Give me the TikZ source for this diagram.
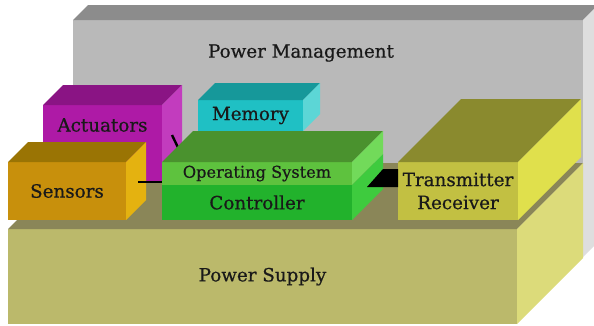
\documentclass[tikz,border=0pt]{standalone}
\usepackage{fontspec}
\setmainfont[FakeBold=0.6]{DejaVu Serif}
\usepackage{xcolor}
\usepackage{tikz}
\usetikzlibrary{positioning}
\definecolor{pmfront}{HTML}{B9B9B9}
\definecolor{pmtop}{HTML}{8C8C8C}
\definecolor{pmside}{HTML}{DEDEDE}
\definecolor{supfront}{HTML}{BBB96B}
\definecolor{suptop}{HTML}{8A8658}
\definecolor{supside}{HTML}{DCDB7A}
\definecolor{trxfront}{HTML}{C2C042}
\definecolor{trxtop}{HTML}{8A8A2E}
\definecolor{trxside}{HTML}{E0E04C}
\definecolor{memfront}{HTML}{1FC0C4}
\definecolor{memtop}{HTML}{16989A}
\definecolor{memside}{HTML}{5CD6D6}
\definecolor{actfront}{HTML}{AE1AA6}
\definecolor{acttop}{HTML}{8A1484}
\definecolor{actside}{HTML}{C23CBE}
\definecolor{osfront}{HTML}{5EC23E}
\definecolor{ostop}{HTML}{4A922E}
\definecolor{osside}{HTML}{72DA5A}
\definecolor{ctrlfront}{HTML}{22B22C}
\definecolor{ctrlside}{HTML}{3ECB3E}
\definecolor{sensfront}{HTML}{C8900C}
\definecolor{senstop}{HTML}{9A7404}
\definecolor{sensside}{HTML}{E4B210}
\newcommand{\topface}[3]{\fill[#3] (#1.north west) -- ++(#2,-#2)
  -- ([shift={(#2,-#2)}]#1.north east) -- (#1.north east) -- cycle;}
\newcommand{\sideface}[3]{\fill[#3] (#1.north east) -- ++(#2,-#2)
  -- ([shift={(#2,-#2)}]#1.south east) -- (#1.south east) -- cycle;}

\begin{document}
\begin{tikzpicture}[x=1pt, y=-1pt,
  face/.style={inner sep=0, outer sep=0, anchor=north west,
    font=\fontsize{18.3}{23}\selectfont, text=black!90, align=center},
  lbl/.style={inner sep=0, font=\fontsize{18.3}{23}\selectfont, text=black!90},
  link/.style={line width=2.4pt, black}
]
  \useasboundingbox (0,0) rectangle (594,325);
  \clip (0,0) rectangle (594,325);
  \node[face, fill=pmfront, minimum width=510pt, minimum height=237pt] (pm) at (73,20) {};
  \topface{pm}{15}{pmtop}
  \sideface{pm}{15}{pmside}
  \node[lbl] (pmlbl) at (301,53) {Power Management};
  \node[face, fill=supfront, minimum width=509pt, minimum height=95pt] (sup) at (8,229)
    {Power Supply};
  \topface{sup}{66}{suptop}
  \sideface{sup}{66}{supside}
  \node[face, fill=trxfront, minimum width=120pt, minimum height=58pt] (trx) at (398,162)
    {Transmitter\\Receiver};
  \topface{trx}{63}{trxtop}
  \sideface{trx}{63}{trxside}
  \node[face, fill=memfront, minimum width=105pt, minimum height=31pt] (mem) at (198,100)
    {Memory};
  \topface{mem}{17}{memtop}
  \sideface{mem}{17}{memside}
  \node[face, fill=actfront, minimum width=119pt, minimum height=77pt] (act) at (43,105) {};
  \topface{act}{20}{acttop}
  \sideface{act}{20}{actside}
  \node[lbl] (actlbl) at ([yshift=-20pt]act.north) {Actuators};
  \draw[link] (172,135) -- (184,160);
  \node[face, fill=osfront, minimum width=190pt, minimum height=23pt,
    font=\fontsize{16.2}{18}\selectfont] (os) at (162,162) {Operating System};
  \node[face, fill=ctrlfront, minimum width=190pt, minimum height=35pt] (ctrl) at (162,185)
    {Controller};
  \topface{os}{31}{ostop}
  \sideface{os}{31}{osside}
  \sideface{ctrl}{31}{ctrlside}
  \node[face, fill=sensfront, minimum width=118pt, minimum height=58pt] (sens) at (8,162)
    {Sensors};
  \topface{sens}{20}{senstop}
  \sideface{sens}{20}{sensside}
  \draw[link] (138,182) -- (ctrl.west |- 138,182);
  \fill[black] (367,187) -- (383,169) -- (trx.west |- 383,169) -- (trx.west |- 367,187) -- cycle;
\end{tikzpicture}
\end{document}
